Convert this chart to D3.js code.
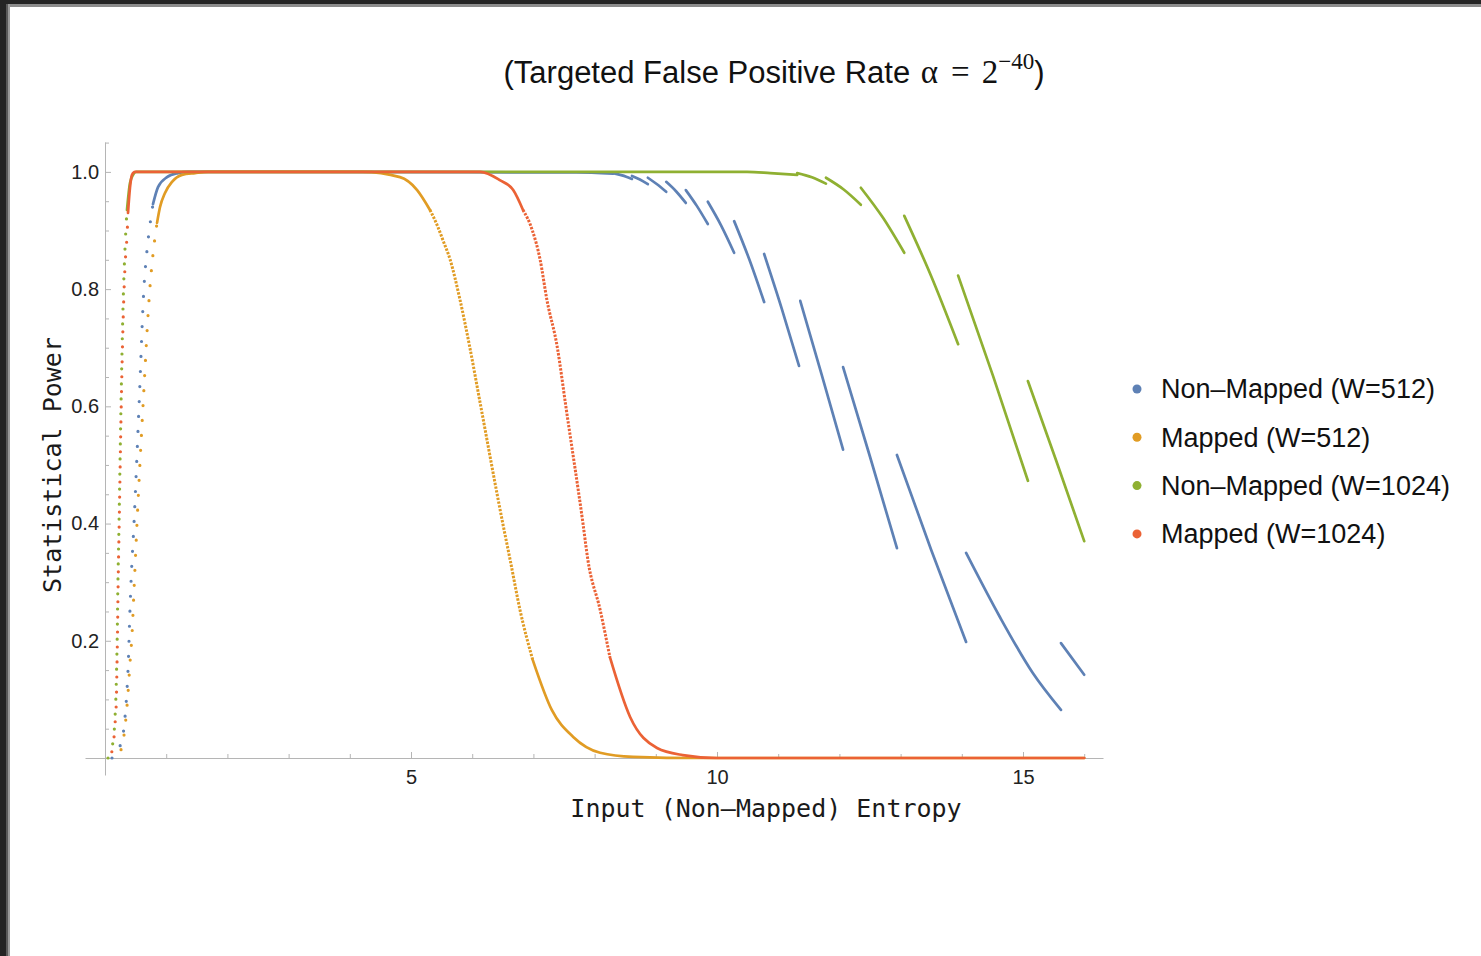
<!DOCTYPE html>
<html>
<head>
<meta charset="utf-8">
<script src="https://cdn.jsdelivr.net/npm/d3@7/dist/d3.min.js"></script>
<style>
  body { margin: 0; background: #fff; }
  svg { display: block; }
</style>
</head>
<body>
<svg id="chart" width="1481" height="956"></svg>
<script>
var WIDTH = 1481, HEIGHT = 956;

// ---- data ----
var seriesNames = ["Non\u2013Mapped (W=512)", "Mapped (W=512)", "Non\u2013Mapped (W=1024)", "Mapped (W=1024)"];
var titleMain = "(Targeted False Positive Rate ";
var titleExp = "\u221240";
var xLabel = "Input (Non\u2013Mapped) Entropy";
var yLabel = "Statistical Power";

var xTicksMajor = [5, 10, 15];
var xTicksMinor = [1, 2, 3, 4, 6, 7, 8, 9, 11, 12, 13, 14, 16];
var yTicksMajor = [0.2, 0.4, 0.6, 0.8, 1.0];
var yTicksMinor = [0.05, 0.1, 0.15, 0.25, 0.3, 0.35, 0.45, 0.5, 0.55, 0.65, 0.7, 0.75, 0.85, 0.9, 0.95, 1.05];

// steep rise at low entropy, the points are far apart here
var riseNM512 = [[0.114,0],[0.278,0.031],[0.327,0.070],[0.359,0.116],[0.376,0.150],[0.408,0.253],[0.425,0.300],
  [0.474,0.401],[0.556,0.601],[0.637,0.804],[0.686,0.866],[0.735,0.910],[0.784,0.945]];
var riseM512 = [[0.180,0],[0.245,0.009],[0.327,0.053],[0.376,0.111],[0.408,0.162],[0.441,0.210],[0.474,0.287],
  [0.523,0.401],[0.621,0.601],[0.735,0.804],[0.790,0.865],[0.850,0.913]];
var riseNM1024 = [[0.049,0],[0.136,0.031],[0.163,0.068],[0.180,0.111],[0.191,0.160],[0.200,0.210],[0.207,0.270],
  [0.229,0.401],[0.261,0.601],[0.294,0.768],[0.327,0.870],[0.359,0.935]];
var riseM1024 = [[0.065,0],[0.130,0.020],[0.165,0.060],[0.185,0.097],[0.196,0.160],[0.207,0.234],[0.212,0.278],
  [0.232,0.401],[0.265,0.601],[0.310,0.795],[0.330,0.845],[0.359,0.890],[0.376,0.930]];

// dense dotted part of the mapped descents
var fallM512 = [[5.31,0.935],[5.44,0.906],[5.52,0.884],[5.64,0.850],[5.80,0.782],[5.96,0.701],[6.14,0.600],
  [6.50,0.400],[6.62,0.338],[6.78,0.253],[6.99,0.167]];
var fallM1024 = [[6.83,0.935],[6.98,0.901],[7.11,0.850],[7.22,0.782],[7.39,0.701],[7.53,0.600],[7.81,0.400],
  [7.89,0.338],[8.09,0.253],[8.25,0.172]];

// continuous pieces; the non-mapped curves jump from one piece to the next
var piecesNM512 = [
  [[0.784,0.945],[0.866,0.974],[1.013,0.991],[1.193,0.998],[1.356,1.0],[7.70,0.999],[8.30,0.997]],
  [[8.30,0.998],[8.45,0.994],[8.61,0.988]],
  [[8.61,0.993],[8.74,0.987],[8.87,0.979]],
  [[8.87,0.990],[9.02,0.979],[9.17,0.966]],
  [[9.17,0.983],[9.33,0.967],[9.49,0.947]],
  [[9.49,0.969],[9.67,0.942],[9.85,0.911]],
  [[9.85,0.949],[10.07,0.908],[10.28,0.862]],
  [[10.28,0.916],[10.53,0.850],[10.77,0.778]],
  [[10.77,0.860],[11.06,0.766],[11.34,0.669]],
  [[11.36,0.780],[11.71,0.654],[12.06,0.526]],
  [[12.06,0.667],[12.50,0.514],[12.94,0.358]],
  [[12.94,0.517],[13.50,0.355],[14.07,0.198]],
  [[14.07,0.350],[14.62,0.241],[15.16,0.145],[15.62,0.082]],
  [[15.62,0.196],[16.0,0.142]]
];
var piecesM512 = [
  [[0.850,0.913],[0.899,0.940],[0.980,0.964],[1.095,0.983],[1.258,0.995],[1.471,0.998],[1.683,1.0],
   [4.20,1.0],[4.82,0.991],[5.10,0.969],[5.31,0.935]],
  [[6.99,0.167],[7.30,0.082],[7.65,0.036],[8.09,0.009],[8.63,0.002],[9.72,0],[16.0,0]]
];
var piecesNM1024 = [
  [[0.359,0.935],[0.408,0.981],[0.458,0.995],[0.507,1.0],[10.49,1.0],[10.87,0.998],[11.31,0.995]],
  [[11.31,0.998],[11.55,0.991],[11.78,0.980]],
  [[11.78,0.990],[12.07,0.970],[12.35,0.944]],
  [[12.35,0.973],[12.71,0.922],[13.06,0.862]],
  [[13.06,0.925],[13.50,0.822],[13.94,0.706]],
  [[13.94,0.823],[14.51,0.652],[15.08,0.473]],
  [[15.08,0.643],[15.54,0.508],[16.0,0.370]]
];
var piecesM1024 = [
  [[0.376,0.930],[0.408,0.973],[0.441,0.995],[0.49,1.0],[6.13,1.0],[6.45,0.986],[6.67,0.969],[6.83,0.935]],
  [[8.25,0.172],[8.58,0.070],[9.02,0.017],[9.44,0.005],[10.0,0],[16.0,0]]
];

var colorList = ["#5e81b5", "#e19c24", "#8fb032", "#eb6235"];
var dotOffset = [0, 5, 0, 8];   // shift dot phase so overlapping rises stay visible
var sansFont = "'Liberation Sans', Arial, sans-serif";
var serifFont = "'Liberation Serif', 'Times New Roman', serif";
var monoFont = "'DejaVu Sans Mono', monospace";

var svg = d3.select('#chart');

// screenshot frame (dark window edge on top and left)
svg.append('rect').attr('x', 0).attr('y', 0).attr('width', WIDTH).attr('height', HEIGHT).attr('fill', '#fff');
svg.append('rect').attr('x', 0).attr('y', 0).attr('width', WIDTH).attr('height', 4).attr('fill', '#242424');
svg.append('rect').attr('x', 6).attr('y', 4).attr('width', WIDTH).attr('height', 3).attr('fill', '#8c8c8c');
svg.append('rect').attr('x', 0).attr('y', 0).attr('width', 6).attr('height', HEIGHT).attr('fill', '#242424');
svg.append('rect').attr('x', 6).attr('y', 4).attr('width', 2).attr('height', HEIGHT).attr('fill', '#5a5a5a');
svg.append('rect').attr('x', 8).attr('y', 4).attr('width', 2).attr('height', HEIGHT).attr('fill', '#9a9a9a');

var xScale = d3.scaleLinear().domain([-0.327, 16.307]).range([85, 1103]);
var yScale = d3.scaleLinear().domain([-0.029, 1.051]).range([775, 142]);

// Axes, ticks point inward like Mathematica
var xAxis = svg.append('g').attr('transform', 'translate(0,' + yScale(0) + ')')
  .call(d3.axisBottom(xScale).tickValues(xTicksMajor).tickSize(-6).tickSizeOuter(0).tickPadding(12).tickFormat(d3.format('d')));
var xMinor = svg.append('g').attr('transform', 'translate(0,' + yScale(0) + ')')
  .call(d3.axisBottom(xScale).tickValues(xTicksMinor).tickSize(-4).tickSizeOuter(0).tickFormat(''));
xMinor.select('.domain').remove();

var yAxis = svg.append('g').attr('transform', 'translate(' + xScale(0) + ',0)')
  .call(d3.axisLeft(yScale).tickValues(yTicksMajor).tickSize(-6).tickSizeOuter(0).tickPadding(6).tickFormat(d3.format('.1f')));
var yMinor = svg.append('g').attr('transform', 'translate(' + xScale(0) + ',0)')
  .call(d3.axisLeft(yScale).tickValues(yTicksMinor).tickSize(-4).tickSizeOuter(0).tickFormat(''));
yMinor.select('.domain').remove();

svg.selectAll('.domain, .tick line').attr('stroke', '#b5b5b5').attr('stroke-width', 1);
svg.selectAll('.tick text').attr('fill', '#222').style('font-family', sansFont).style('font-size', '20px');

var lineFunc = d3.line()
  .x(function(d) { return xScale(d[0]); })
  .y(function(d) { return yScale(d[1]); })
  .curve(d3.curveMonotoneX);

var plot = svg.append('g');

var rises = [riseNM512, riseM512, riseNM1024, riseM1024];
var falls = [null, fallM512, null, fallM1024];
var pieces = [piecesNM512, piecesM512, piecesNM1024, piecesM1024];

for (var j = 0; j < 4; j++) {
  // sparse dots of the rise
  plot.append('path')
    .attr('d', lineFunc(rises[j]))
    .attr('fill', 'none')
    .attr('stroke', colorList[j])
    .attr('stroke-width', 3.2)
    .attr('stroke-linecap', 'round')
    .attr('stroke-dasharray', '0,15')
    .attr('stroke-dashoffset', dotOffset[j]);
  // dense dotted descent
  if (falls[j]) {
    plot.append('path')
      .attr('d', lineFunc(falls[j]))
      .attr('fill', 'none')
      .attr('stroke', colorList[j])
      .attr('stroke-width', 3)
      .attr('stroke-dasharray', '2.4,1.4');
  }
  for (var k = 0; k < pieces[j].length; k++) {
    plot.append('path')
      .attr('d', lineFunc(pieces[j][k]))
      .attr('fill', 'none')
      .attr('stroke', colorList[j])
      .attr('stroke-width', 2.7)
      .attr('stroke-linecap', 'round');
  }
}

// Title
var title = svg.append('text')
  .attr('x', 774).attr('y', 83)
  .attr('text-anchor', 'middle')
  .attr('fill', '#111');
title.append('tspan').style('font-family', sansFont).style('font-size', '31px').text(titleMain);
title.append('tspan').attr('dx', 2).style('font-family', serifFont).style('font-size', '33px').text('\u03b1');
title.append('tspan').attr('dx', 13).style('font-family', serifFont).style('font-size', '33px').text('=');
title.append('tspan').attr('dx', 12).style('font-family', serifFont).style('font-size', '33px').text('2');
title.append('tspan').attr('dy', -14).style('font-family', serifFont).style('font-size', '23px').text(titleExp);
title.append('tspan').attr('dy', 14).style('font-family', sansFont).style('font-size', '31px').text(')');

// Axis labels
svg.append('text')
  .attr('x', 766).attr('y', 817)
  .attr('text-anchor', 'middle')
  .attr('fill', '#1a1a1a')
  .style('font-family', monoFont).style('font-size', '25px')
  .text(xLabel);
svg.append('text')
  .attr('transform', 'translate(61,465) rotate(-90)')
  .attr('text-anchor', 'middle')
  .attr('fill', '#1a1a1a')
  .style('font-family', monoFont).style('font-size', '25px')
  .text(yLabel);

// Legend
var legend = svg.append('g').attr('transform', 'translate(1137,389)');
var items = legend.selectAll('g').data(seriesNames).enter().append('g')
  .attr('transform', function(d, i) { return 'translate(0,' + (i * 48.3) + ')'; });
items.append('circle').attr('r', 4.5).attr('fill', function(d, i) { return colorList[i]; });
items.append('text')
  .attr('x', 24).attr('dy', '0.35em')
  .attr('fill', '#111')
  .style('font-family', sansFont).style('font-size', '27px')
  .text(function(d) { return d; });
</script>
</body>
</html>
